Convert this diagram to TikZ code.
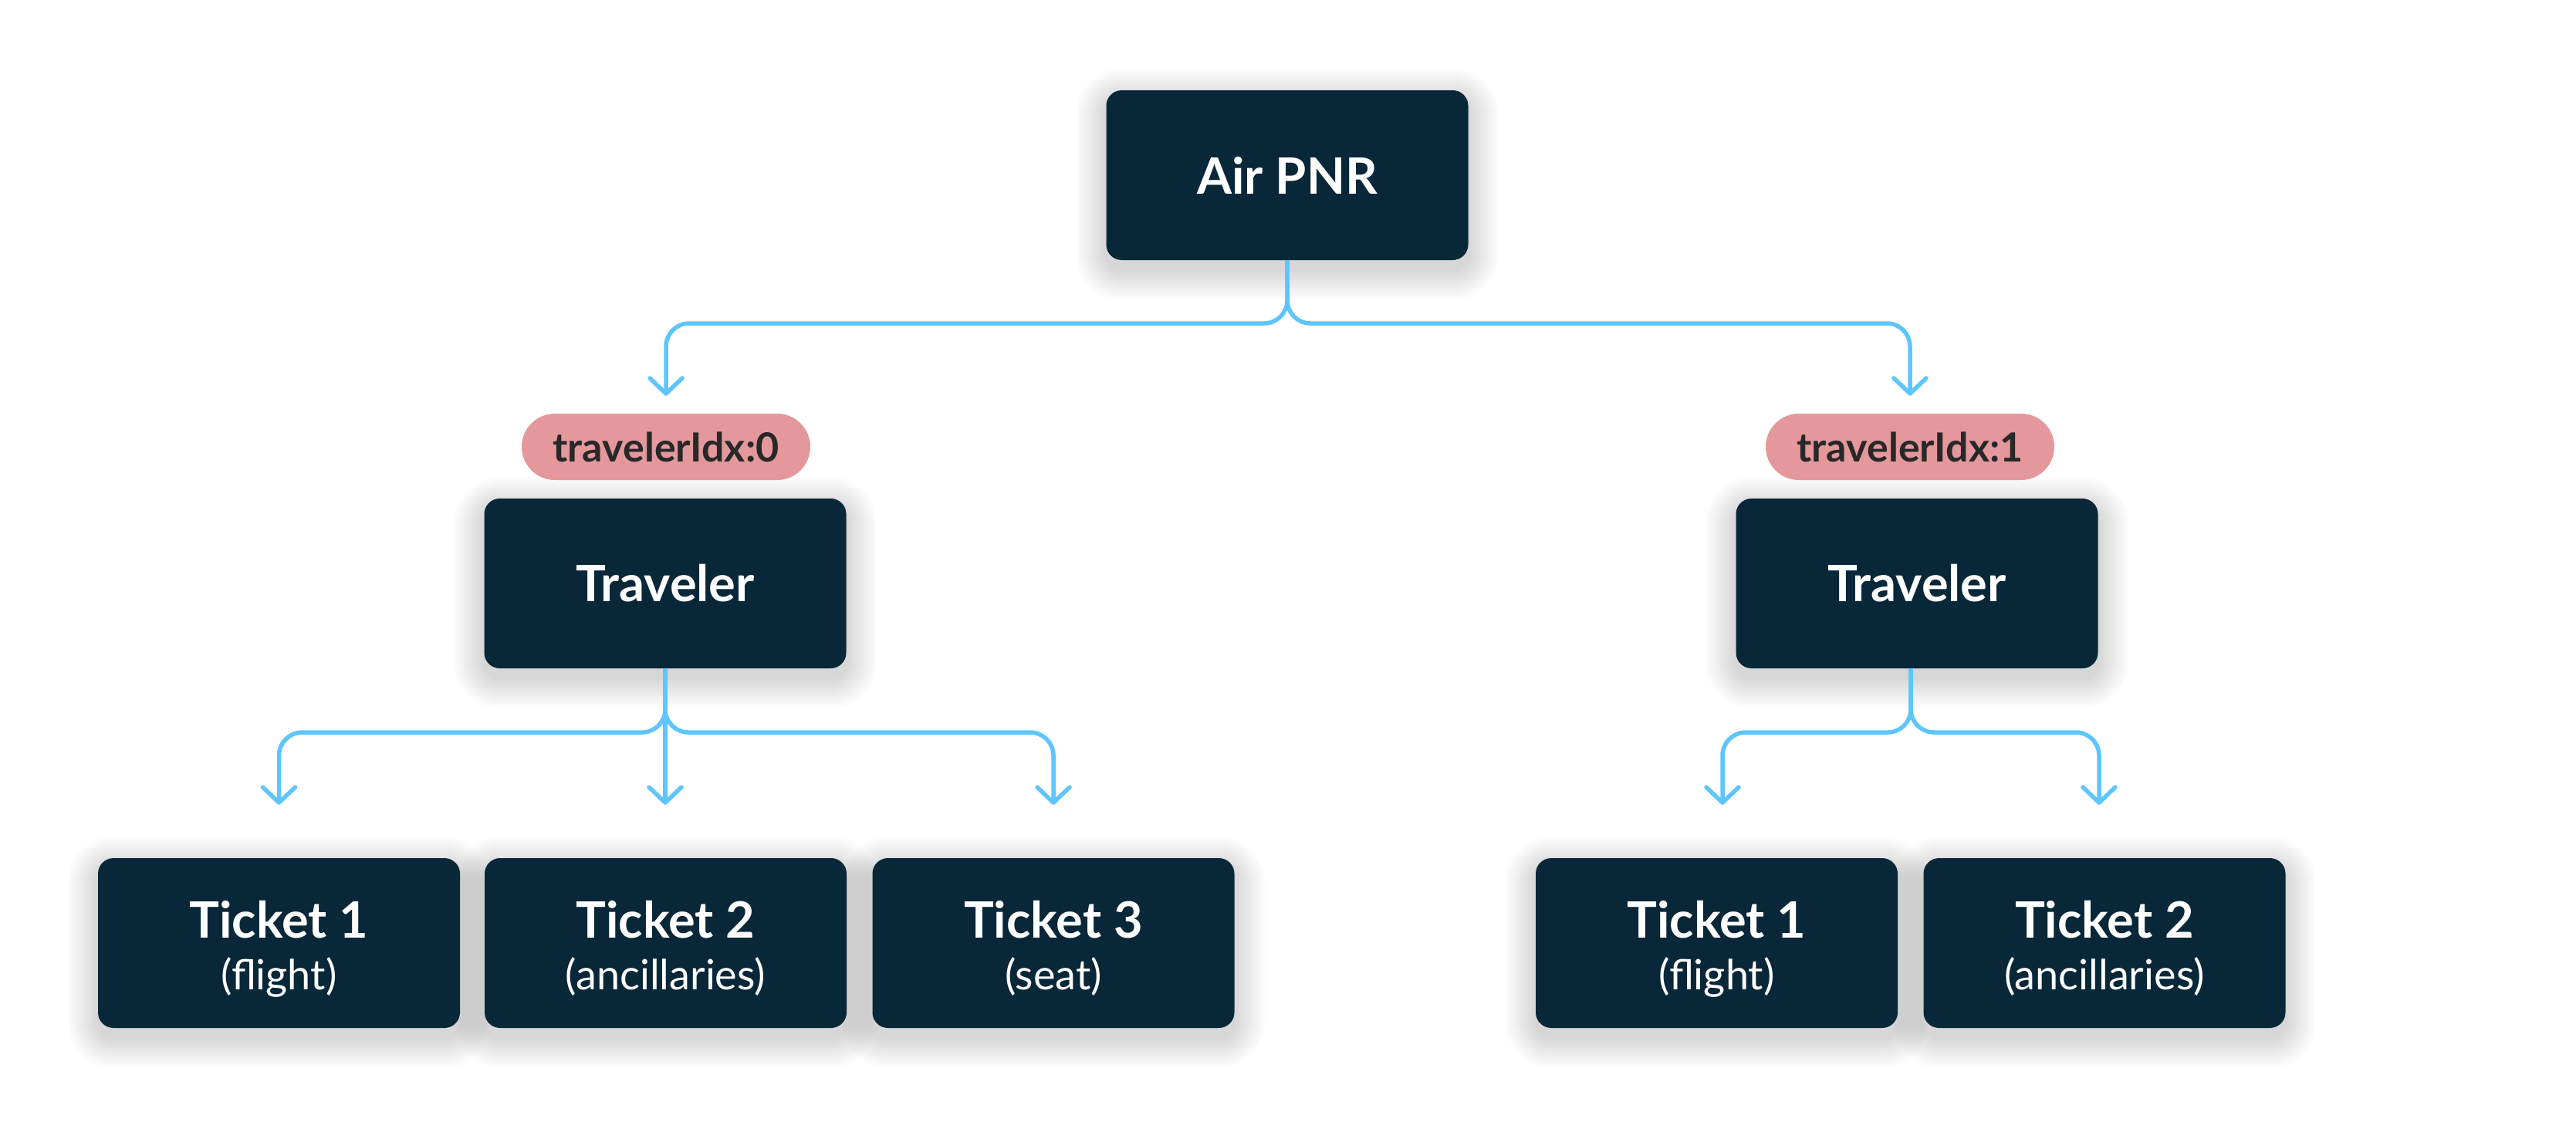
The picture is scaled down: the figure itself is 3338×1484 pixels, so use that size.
\documentclass[tikz,border=0pt]{standalone}
\usepackage{fontspec}
\setmainfont{Lato}
\usetikzlibrary{arrows.meta,calc}
\definecolor{boxc}{RGB}{8,39,57}
\definecolor{linec}{RGB}{94,197,253}
\definecolor{pillc}{RGB}{228,152,155}
\definecolor{pilltxt}{RGB}{40,40,40}
\pgfdeclarelayer{bg}
\pgfsetlayers{bg,main}
\tikzset{
  darkbox/.style={fill=boxc, rounded corners=20pt, minimum width=469pt, minimum height=220pt, inner sep=0pt, text=white, font=\fontsize{65}{70}\selectfont\bfseries},
  pillbox/.style={fill=pillc, rounded corners=43pt, minimum width=374pt, minimum height=86pt, inner sep=0pt, text=pilltxt, font=\fontsize{52}{58}\selectfont\bfseries},
  ttl/.style={anchor=base, text=white, inner sep=0pt, font=\fontsize{65}{70}\selectfont\bfseries},
  subt/.style={anchor=base, text=white, inner sep=0pt, font=\fontsize{54}{60}\selectfont},
  conn/.style={draw=linec, line width=5.5pt, rounded corners=30pt, -{Straight Barb[length=20pt,width=42pt,round]}},
}
\newcommand\softshadow[1]{%
  \begin{pgfonlayer}{bg}
  \foreach \s in {2,4,...,40} {
    \fill[black, fill opacity=0.0065, rounded corners={20pt+\s*1pt}]
      ([xshift=-\s*1pt, yshift={\s*1pt-12pt}]#1.north west) rectangle ([xshift=\s*1pt, yshift={-\s*1pt-12pt}]#1.south east);
  }
  \end{pgfonlayer}}
\begin{document}
\begin{tikzpicture}[x=1pt,y=-1pt]
\begin{pgfonlayer}{bg}
  \fill[white] (0,0) rectangle (3338,1484);
\end{pgfonlayer}
\useasboundingbox (0,0) rectangle (3338,1484);

% boxes
\node[darkbox] (air) at (1668,227) {Air PNR};
\node[pillbox] (p0) at (863,579) {travelerIdx:0};
\node[pillbox] (p1) at (2475,579) {travelerIdx:1};
\node[darkbox] (tr0) at (862,756) {Traveler};
\node[darkbox] (tr1) at (2484,756) {Traveler};
\foreach \n/\x in {ta1/361.5, ta2/862.5, ta3/1365, tb1/2224.5, tb2/2727}
  \node[darkbox] (\n) at (\x,1222) {};

% ticket texts
\node[ttl] (ta1t) at ([yshift=7pt]ta1.center) {Ticket 1};
\node[subt] (ta1s) at ([yshift=-60pt]ta1.center) {(flight)};
\node[ttl] (ta2t) at ([yshift=7pt]ta2.center) {Ticket 2};
\node[subt] (ta2s) at ([yshift=-60pt]ta2.center) {(ancillaries)};
\node[ttl] (ta3t) at ([yshift=7pt]ta3.center) {Ticket 3};
\node[subt] (ta3s) at ([yshift=-60pt]ta3.center) {(seat)};
\node[ttl] (tb1t) at ([yshift=7pt]tb1.center) {Ticket 1};
\node[subt] (tb1s) at ([yshift=-60pt]tb1.center) {(flight)};
\node[ttl] (tb2t) at ([yshift=7pt]tb2.center) {Ticket 2};
\node[subt] (tb2s) at ([yshift=-60pt]tb2.center) {(ancillaries)};

% shadows
\foreach \n in {air,tr0,tr1,ta1,ta2,ta3,tb1,tb2} {\softshadow{\n}}

% connectors
\coordinate (h0) at (0,419);
\coordinate (h1) at (0,949);
\coordinate (a0) at ([yshift=23pt]p0.north);
\coordinate (a1) at ([yshift=23pt]p1.north);
\draw[conn] (air.south) -- (air.south |- h0) -- (a0 |- h0) -- (a0);
\draw[conn] (air.south) -- (air.south |- h0) -- (a1 |- h0) -- (a1);

\coordinate (s0) at (tr0.south);
\coordinate (e1) at ([yshift=69pt]ta1.north);
\coordinate (e2) at ([yshift=69pt]ta2.north);
\coordinate (e3) at ([yshift=69pt]ta3.north);
\draw[conn] (s0) -- (s0 |- h1) -- (e1 |- h1) -- (e1);
\draw[conn] (s0) -- (s0 |- e2);
\draw[conn] (s0) -- (s0 |- h1) -- (e3 |- h1) -- (e3);

\coordinate (s1) at ([xshift=-8pt]tr1.south);
\coordinate (f1) at ([xshift=7.5pt,yshift=69pt]tb1.north);
\coordinate (f2) at ([xshift=-7pt,yshift=69pt]tb2.north);
\draw[conn] (s1) -- (s1 |- h1) -- (f1 |- h1) -- (f1);
\draw[conn] (s1) -- (s1 |- h1) -- (f2 |- h1) -- (f2);
\end{tikzpicture}
\end{document}
